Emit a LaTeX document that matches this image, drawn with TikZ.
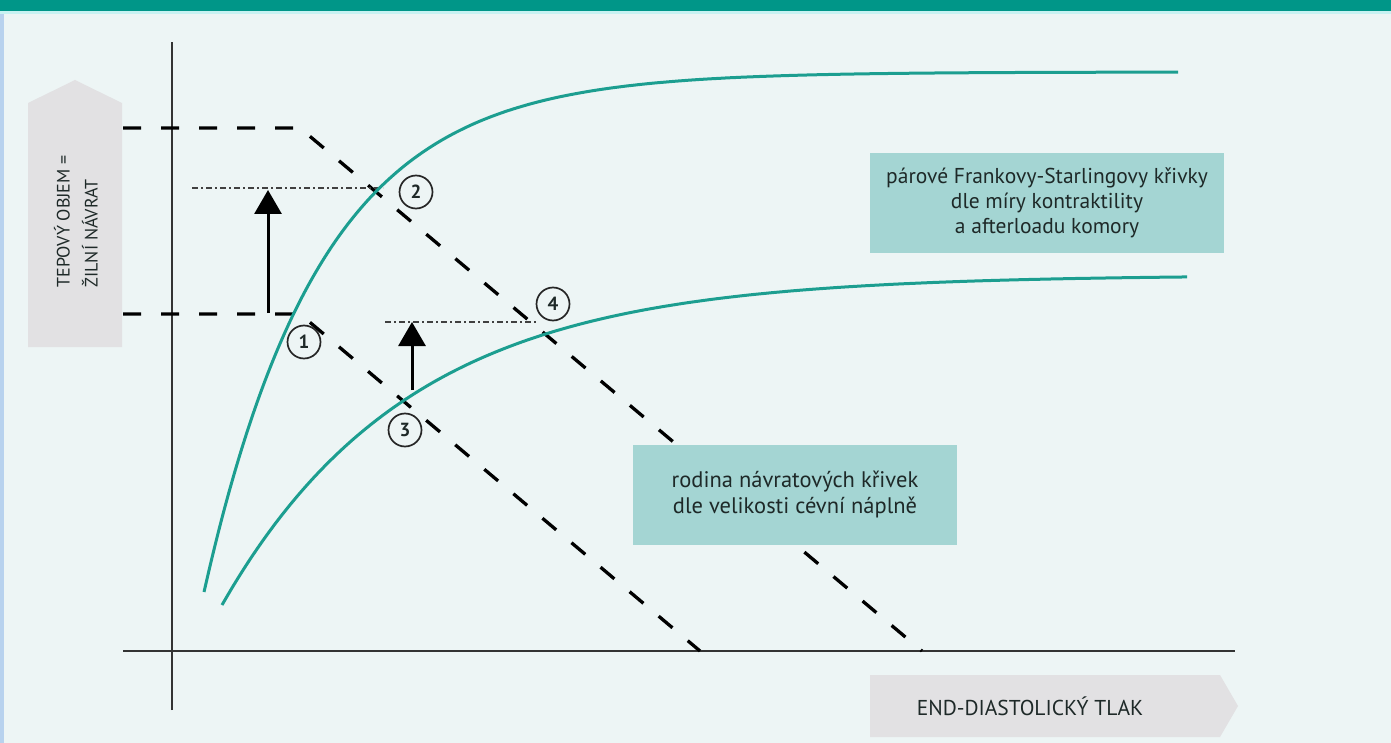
\documentclass[tikz,border=0pt]{standalone}
\usepackage{fontspec}
\setmainfont{PT Sans}
\usetikzlibrary{arrows.meta}
\definecolor{bgc}{HTML}{EDF5F5}
\definecolor{bandc}{HTML}{009688}
\definecolor{bandline}{HTML}{C8F2F2}
\definecolor{leftc}{HTML}{B8D2EE}
\definecolor{boxc}{HTML}{A4D5D3}
\definecolor{grayc}{HTML}{E2E1E3}
\definecolor{curvec}{HTML}{1C9E90}
\definecolor{txtc}{HTML}{1E2928}
\definecolor{axisc}{HTML}{333333}
\tikzset{
  axisline/.style={draw=axisc, line width=2pt},
  retline/.style={draw=black, line width=3.3pt, dash pattern=on 18pt off 20pt},
  dotdash/.style={draw=black!75, line width=1.4pt, dash pattern=on 6pt off 3pt on 2pt off 3pt},
  fscurve/.style={draw=curvec, line width=3pt},
  uparrow/.style={draw=black, line width=3pt, -{Triangle[width=27pt,length=24pt]}},
  infobox/.style={fill=boxc, text=txtc, align=center, inner sep=0pt},
  numcirc/.style={circle, draw=black!85, fill=bgc, line width=1.7pt, minimum size=33pt, inner sep=0pt, text=txtc, font=\fontsize{19}{19}\selectfont\bfseries},
  labeltext/.style={text=txtc}
}
\begin{document}
\begin{tikzpicture}[x=1pt,y=-1pt]
\useasboundingbox (0,0) rectangle (1391,743);
% background
\fill[bgc] (0,0) rectangle (1391,743);
\fill[bandc] (0,0) rectangle (1391,11);
\fill[bandline] (0,11) rectangle (1391,14);
\fill[leftc] (0,14) rectangle (4,743);
% axis label arrows
\fill[grayc] (28,347) -- (28,103) -- (75,80) -- (122,103) -- (122,347) -- cycle;
\node[labeltext, rotate=90, anchor=west, align=left, font=\fontsize{18}{28}\selectfont] (ylab) at (76,291) {TEPOVÝ OBJEM =\\ŽILNÍ NÁVRAT};
\fill[grayc] (870,675) -- (1220,675) -- (1238,706) -- (1220,737) -- (870,737) -- cycle;
\node[labeltext, font=\fontsize{21.5}{26}\selectfont] (xlab) at (1030,706) {END-DIASTOLICKÝ TLAK};
% axes
\coordinate (ytop) at (172,42);
\coordinate (ybot) at (172,710);
\coordinate (xl) at (123,651);
\coordinate (xr) at (1235,651);
\draw[axisline] (ybot) -- (ytop);
\draw[axisline] (xl) -- (xr);
% return curves (dashed)
\coordinate (u0) at (123,128);
\coordinate (u1) at (300,128);
\coordinate (u2) at (922,651);
\coordinate (l0) at (123,314);
\coordinate (l1) at (300,314);
\coordinate (l2) at (700,651);
\draw[retline] (u0) -- (u1) -- (u2);
\draw[retline] (l0) -- (l1) -- (l2);
% dot-dash levels
\coordinate (d1a) at (192,188);
\coordinate (d1b) at (383,188);
\coordinate (d2a) at (385,322);
\coordinate (d2b) at (537,322);
\draw[dotdash] (d1a) -- (d1b);
\draw[dotdash] (d2a) -- (d2b);
% Frank-Starling curves
\draw[fscurve] plot[domain=204:1178, samples=160, smooth] (\x, {72+520*exp(-(\x-204)/117)});
\draw[fscurve] plot[domain=222:1187, samples=160, smooth] (\x, {275+330*exp(-(\x-222)/188)});
% arrows
\coordinate (a1s) at (268,313);
\coordinate (a1e) at (268,190);
\coordinate (a2s) at (412,390);
\coordinate (a2e) at (412,322);
\draw[uparrow] (a1s) -- (a1e);
\draw[uparrow] (a2s) -- (a2e);
% boxes
\node[infobox, minimum width=354pt, minimum height=100pt, font=\fontsize{21.5}{25}\selectfont] (fsbox) at (1047,203) {párové Frankovy-Starlingovy křivky\\dle míry kontraktility\\a afterloadu komory};
\node[infobox, minimum width=324pt, minimum height=100pt, font=\fontsize{22.5}{26}\selectfont] (rbox) at (795,495) {rodina návratových křivek\\dle velikosti cévní náplně};
% numbered points
\node[numcirc] (n1) at (304,342) {1};
\node[numcirc] (n2) at (416,192) {2};
\node[numcirc] (n3) at (405,430) {3};
\node[numcirc] (n4) at (553,304) {4};
\end{tikzpicture}
\end{document}
